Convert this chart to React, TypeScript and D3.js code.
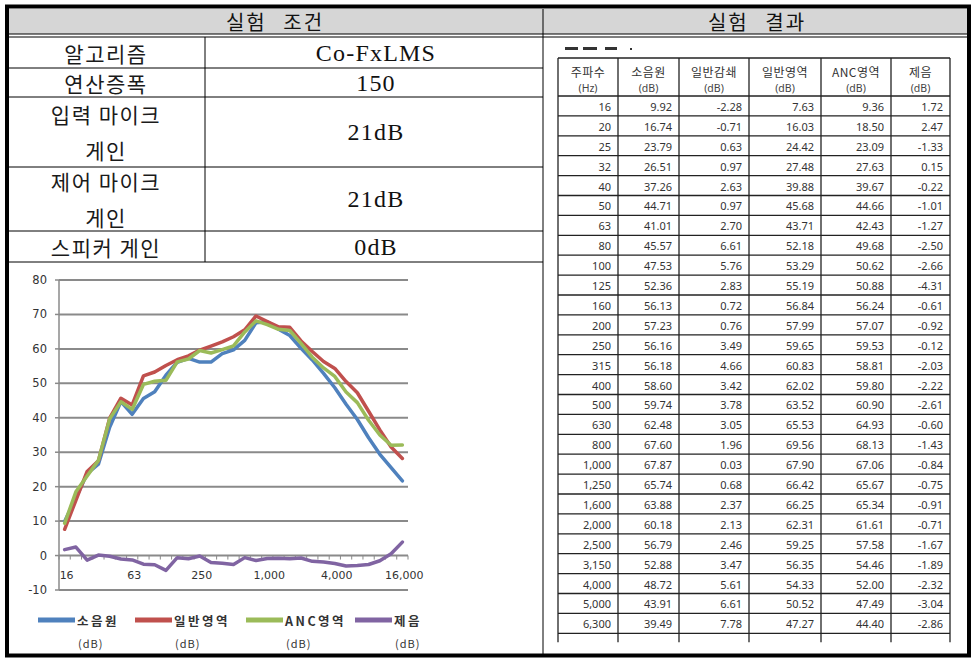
import React from "react";
import * as d3 from "d3";

const freqLabels = ["16","20","25","32","40","50","63","80","100","125","160","200","250","315","400","500","630","800","1,000","1,250","1,600","2,000","2,500","3,150","4,000","5,000","6,300","8,000","10,000","12,500","16,000"];
const sourceDb = [9.92,16.74,23.79,26.51,37.26,44.71,41.01,45.57,47.53,52.36,56.13,57.23,56.16,56.18,58.60,59.74,62.48,67.60,67.87,65.74,63.88,60.18,56.79,52.88,48.72,43.91,39.49,34.2,29.4,25.5,21.7];
const attenDb = [-2.28,-0.71,0.63,0.97,2.63,0.97,2.70,6.61,5.76,2.83,0.72,0.76,3.49,4.66,3.42,3.78,3.05,1.96,0.03,0.68,2.37,2.13,2.46,3.47,5.61,6.61,7.78];
const generalDb = [7.63,16.03,24.42,27.48,39.88,45.68,43.71,52.18,53.29,55.19,56.84,57.99,59.65,60.83,62.02,63.52,65.53,69.56,67.90,66.42,66.25,62.31,59.25,56.35,54.33,50.52,47.27,41.9,36.5,31.5,28.2];
const ancDb = [9.36,18.50,23.09,27.63,39.67,44.66,42.43,49.68,50.62,50.88,56.24,57.07,59.53,58.81,59.80,60.90,64.93,68.13,67.06,65.67,65.34,61.61,57.58,54.46,52.00,47.49,44.40,39.3,35.0,32.0,32.1];
const reductionDb = [1.72,2.47,-1.33,0.15,-0.22,-1.01,-1.27,-2.50,-2.66,-4.31,-0.61,-0.92,-0.12,-2.03,-2.22,-2.61,-0.60,-1.43,-0.84,-0.75,-0.91,-0.71,-1.67,-1.89,-2.32,-3.04,-2.86,-2.6,-1.5,0.5,3.9];
const tableRowCount = 27;

const seriesNames = ["소음원", "일반영역", "ANC영역", "제음"];
const seriesColors = ["#4F81BD", "#C0504D", "#9BBB59", "#8064A2"];
const seriesValues = [sourceDb, generalDb, ancDb, reductionDb];
const xTickLabels = ["16","63","250","1,000","4,000","16,000"];
const yTicks = [-10,0,10,20,30,40,50,60,70,80];

const tableHeaders = [["주파수","(Hz)"],["소음원","(dB)"],["일반감쇄","(dB)"],["일반영역","(dB)"],["ANC영역","(dB)"],["제음","(dB)"]];

const condLabels = [["알고리즘"],["연산증폭"],["입력 마이크","게인"],["제어 마이크","게인"],["스피커 게인"]];
const condValues = ["Co-FxLMS","150","21dB","21dB","0dB"];

const KR = "'Noto Sans CJK KR', sans-serif";
const SERIF = "'Liberation Serif', 'Noto Sans CJK KR', serif";

export default function App() {
  const x = d3.scalePoint<string>().domain(freqLabels).range([59, 408]).padding(0.5);
  const y = d3.scaleLinear().domain([-10, 80]).range([590, 280]);
  const step = x.step();
  const line = d3.line<number>().x((_, i) => x(freqLabels[i]) as number).y((d) => y(d));

  const rowLines = [68, 97, 167, 231, 262];
  const rowBounds = [37, 68, 97, 167, 231, 262];

  const cols = [558, 618, 679, 749, 821, 891, 950];
  const hTop = 58, hBot = 96, rowH = 19.9;
  const tBot = hBot + rowH * tableRowCount;
  const fmt = (v: number) => v.toFixed(2);
  const rowsData = d3.range(tableRowCount).map((i) => [
    freqLabels[i], fmt(sourceDb[i]), fmt(attenDb[i]), fmt(generalDb[i]), fmt(ancDb[i]), fmt(reductionDb[i]),
  ]);

  const legendX = [38, 135, 246, 355];

  return (
    <svg width={980} height={667} style={{ position: "absolute", left: 0, top: 0, background: "#fff" }}>
      <rect x={9} y={9} width={958} height={25} fill="#d6d6d6" />
      <line x1={9} x2={967} y1={34} y2={34} stroke="#000" strokeWidth={1} />
      <line x1={9} x2={967} y1={37} y2={37} stroke="#000" strokeWidth={1} />
      <text x={275} y={21} fontFamily={KR} fontSize={20} letterSpacing={2} wordSpacing={10} textAnchor="middle" dominantBaseline="central" fill="#111">실험 조건</text>
      <text x={757} y={21} fontFamily={KR} fontSize={20} letterSpacing={2} wordSpacing={10} textAnchor="middle" dominantBaseline="central" fill="#111">실험 결과</text>
      <line x1={543} x2={543} y1={9} y2={655} stroke="#000" strokeWidth={1} />

      {rowLines.map((ly) => (
        <line key={ly} x1={9} x2={543} y1={ly} y2={ly} stroke="#000" strokeWidth={1} />
      ))}
      <line x1={205} x2={205} y1={37} y2={262} stroke="#000" strokeWidth={1} />
      {condLabels.map((lab, i) => {
        const cy = (rowBounds[i] + rowBounds[i + 1]) / 2;
        const n = lab.length;
        return (
          <g key={i}>
            {lab.map((t, k) => (
              <text key={k} x={106} y={cy + (k - (n - 1) / 2) * 36} fontFamily={KR} fontSize={21} letterSpacing={1.5} textAnchor="middle" dominantBaseline="central" fill="#1a1a1a">{t}</text>
            ))}
            <text x={376} y={cy} fontFamily={SERIF} fontSize={24} letterSpacing={1.2} textAnchor="middle" dominantBaseline="central" fill="#111">{condValues[i]}</text>
          </g>
        );
      })}

      <g>
        {yTicks.map((t) => (
          <g key={t}>
            <line x1={59} x2={408} y1={y(t)} y2={y(t)} stroke="#8a8a8a" strokeWidth={2} />
            <line x1={55} x2={59} y1={y(t)} y2={y(t)} stroke="#8a8a8a" strokeWidth={1.5} />
            <text x={47} y={y(t)} fontFamily="'DejaVu Sans', sans-serif" fontSize={11.5} textAnchor="end" dominantBaseline="central" fill="#333">{t}</text>
          </g>
        ))}
        <line x1={59} x2={59} y1={280} y2={590} stroke="#8a8a8a" strokeWidth={1.5} />
        {d3.range(freqLabels.length + 1).map((k) => (
          <line key={k} x1={59 + k * step} x2={59 + k * step} y1={y(0)} y2={y(0) + 4} stroke="#8a8a8a" strokeWidth={1} />
        ))}
        {xTickLabels.map((t) => (
          <text key={t} x={(x(t) as number) + 2} y={575} fontFamily="'DejaVu Sans', sans-serif" fontSize={11} textAnchor="middle" dominantBaseline="central" fill="#333">{t}</text>
        ))}
        {seriesValues.map((vals, si) => (
          <path key={si} d={line(vals) || ""} fill="none" stroke={seriesColors[si]} strokeWidth={3.5} strokeLinejoin="round" strokeLinecap="round" />
        ))}
        {seriesNames.map((nm, si) => (
          <g key={nm}>
            <line x1={legendX[si]} x2={legendX[si] + 37} y1={620} y2={620} stroke={seriesColors[si]} strokeWidth={5} />
            <text x={legendX[si] + 39} y={620} fontFamily={KR} fontSize={12.5} fontWeight="bold" letterSpacing={2.5} dominantBaseline="central" fill="#333">{nm}</text>
            <text x={legendX[si] + 40} y={643} fontFamily={KR} fontSize={11} letterSpacing={1} dominantBaseline="central" fill="#333">(dB)</text>
          </g>
        ))}
      </g>

      <g fill="#333">
        <rect x={565} y={47} width={13} height={3} />
        <rect x={583} y={47} width={14} height={3} />
        <rect x={605} y={47} width={12} height={3} />
        <rect x={630} y={48} width={2} height={2} />
      </g>
      <g>
        {cols.map((cx) => (
          <line key={cx} x1={cx} x2={cx} y1={hTop} y2={tBot + 9} stroke="#222" strokeWidth={1.3} />
        ))}
        <line x1={cols[0]} x2={cols[6]} y1={hTop} y2={hTop} stroke="#222" strokeWidth={1.3} />
        {d3.range(tableRowCount + 1).map((r) => (
          <line key={r} x1={cols[0]} x2={cols[6]} y1={hBot + r * rowH} y2={hBot + r * rowH} stroke="#222" strokeWidth={1.3} />
        ))}
        {tableHeaders.map((h, c) => (
          <g key={c}>
            <text x={(cols[c] + cols[c + 1]) / 2} y={71} fontFamily={KR} fontSize={12} letterSpacing={0.5} textAnchor="middle" dominantBaseline="central" fill="#333">{h[0]}</text>
            <text x={(cols[c] + cols[c + 1]) / 2} y={88} fontFamily="'Noto Sans', sans-serif" fontSize={10.5} textAnchor="middle" dominantBaseline="central" fill="#444">{h[1]}</text>
          </g>
        ))}
        {rowsData.map((row, r) => (
          <g key={r}>
            {row.map((v, c) => (
              <text key={c} x={cols[c + 1] - 7} y={hBot + r * rowH + rowH / 2 + 0.5} fontFamily="'Noto Sans', sans-serif" fontSize={11} textAnchor="end" dominantBaseline="central" fill="#333">{v}</text>
            ))}
          </g>
        ))}
      </g>

      <rect x={7} y={6.5} width={962} height={649} fill="none" stroke="#000" strokeWidth={4} />
    </svg>
  );
}
